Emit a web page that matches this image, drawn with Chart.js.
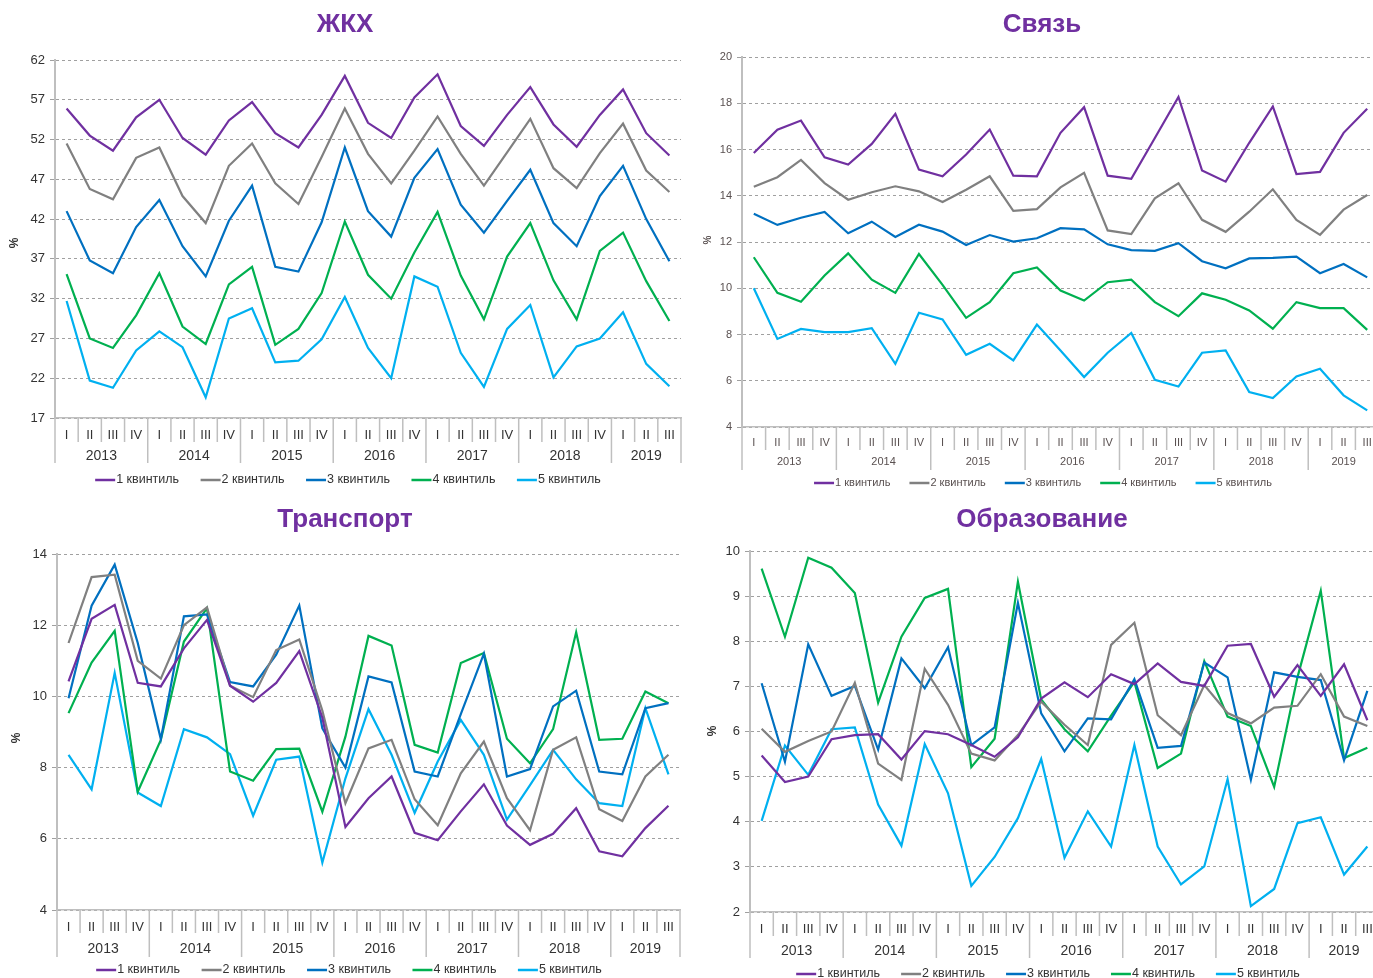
<!DOCTYPE html>
<html>
<head>
<meta charset="utf-8">
<script src="https://cdn.jsdelivr.net/npm/chart.js@4"></script>
<style>
html, body { margin: 0; padding: 0; background: #fff; overflow: hidden; width: 1373px; height: 978px; }
canvas { position: absolute; }
</style>
</head>
<body>
<canvas id="c1" width="690" height="495" style="left:0;top:0"></canvas>
<canvas id="c2" width="700" height="495" style="left:690px;top:0"></canvas>
<canvas id="c3" width="690" height="483" style="left:0;top:495px"></canvas>
<canvas id="c4" width="700" height="483" style="left:690px;top:495px"></canvas>
<script>
// Кварталы и годы
const quarters = ["I", "II", "III", "IV", "I", "II", "III", "IV", "I", "II", "III", "IV",
    "I", "II", "III", "IV", "I", "II", "III", "IV", "I", "II", "III", "IV", "I", "II", "III"];
const years = ["2013", "2014", "2015", "2016", "2017", "2018", "2019"];
const yearSizes = [4, 4, 4, 4, 4, 4, 3];
const seriesNames = ["1 квинтиль", "2 квинтиль", "3 квинтиль", "4 квинтиль", "5 квинтиль"];
const seriesColors = ["#7030A0", "#808080", "#0070C0", "#00B050", "#00B0F0"];

// ЖКХ
const zhkh1 = [55.9, 52.5, 50.6, 54.8, 57.0, 52.2, 50.1, 54.4, 56.7, 52.8, 51.0, 55.1, 60.0, 54.1, 52.2, 57.3, 60.2, 53.7, 51.2, 55.1, 58.6, 53.9, 51.1, 55.1, 58.3, 52.8, 50.0];
const zhkh2 = [51.5, 45.8, 44.5, 49.7, 51.0, 44.9, 41.5, 48.7, 51.5, 46.5, 43.9, 49.8, 55.9, 50.2, 46.5, 50.6, 54.9, 50.2, 46.2, 50.4, 54.6, 48.4, 45.9, 50.3, 54.0, 48.1, 45.4];
const zhkh3 = [43.0, 36.8, 35.2, 41.0, 44.4, 38.6, 34.8, 41.8, 46.2, 36.0, 35.4, 41.6, 51.0, 43.0, 39.8, 47.2, 50.8, 43.8, 40.3, 44.3, 48.2, 41.5, 38.6, 44.9, 48.7, 42.0, 36.7];
const zhkh4 = [35.1, 27.0, 25.8, 29.9, 35.2, 28.5, 26.3, 33.8, 36.0, 26.2, 28.2, 32.7, 41.7, 35.0, 32.0, 37.8, 42.9, 34.9, 29.4, 37.3, 41.5, 34.3, 29.4, 38.0, 40.3, 34.2, 29.2];
const zhkh5 = [31.7, 21.7, 20.8, 25.5, 27.9, 25.9, 19.6, 29.5, 30.8, 24.0, 24.2, 26.9, 32.2, 25.8, 22.0, 34.8, 33.5, 25.2, 20.9, 28.2, 31.2, 22.1, 26.0, 27.0, 30.3, 23.8, 21.0];

// Связь
const svyaz1 = [15.85, 16.86, 17.25, 15.66, 15.35, 16.24, 17.54, 15.13, 14.84, 15.78, 16.86, 14.87, 14.84, 16.72, 17.83, 14.87, 14.73, 16.5, 18.27, 15.09, 14.61, 16.29, 17.86, 14.94, 15.03, 16.72, 17.76];
const svyaz2 = [14.39, 14.8, 15.55, 14.55, 13.83, 14.15, 14.41, 14.19, 13.73, 14.26, 14.84, 13.35, 13.42, 14.36, 14.99, 12.5, 12.34, 13.89, 14.54, 12.96, 12.44, 13.31, 14.28, 12.95, 12.31, 13.4, 14.03];
const svyaz3 = [13.22, 12.74, 13.05, 13.3, 12.38, 12.88, 12.22, 12.75, 12.45, 11.87, 12.3, 12.02, 12.16, 12.6, 12.55, 11.9, 11.65, 11.62, 11.95, 11.17, 10.86, 11.29, 11.31, 11.37, 10.65, 11.05, 10.47];
const svyaz4 = [11.34, 9.8, 9.42, 10.55, 11.51, 10.37, 9.8, 11.48, 10.15, 8.72, 9.4, 10.65, 10.9, 9.9, 9.47, 10.26, 10.37, 9.4, 8.79, 9.78, 9.5, 9.04, 8.25, 9.4, 9.14, 9.14, 8.2];
const svyaz5 = [10.0, 7.81, 8.24, 8.1, 8.1, 8.27, 6.73, 8.94, 8.65, 7.12, 7.6, 6.88, 8.43, 7.31, 6.16, 7.21, 8.07, 6.04, 5.75, 7.21, 7.31, 5.51, 5.25, 6.19, 6.52, 5.37, 4.72];

// Транспорт
const trans1 = [10.42, 12.18, 12.57, 10.38, 10.28, 11.35, 12.15, 10.3, 9.85, 10.38, 11.27, 9.4, 6.33, 7.14, 7.75, 6.17, 5.96, 6.77, 7.53, 6.37, 5.83, 6.14, 6.86, 5.65, 5.51, 6.3, 6.93];
const trans2 = [11.5, 13.35, 13.42, 11.0, 10.5, 12.0, 12.5, 10.3, 9.98, 11.3, 11.6, 9.6, 7.0, 8.54, 8.78, 7.11, 6.38, 7.84, 8.73, 7.14, 6.24, 8.5, 8.85, 6.83, 6.5, 7.75, 8.36];
const trans3 = [9.95, 12.55, 13.7, 11.5, 8.8, 12.25, 12.3, 10.4, 10.28, 11.17, 12.55, 9.1, 8.0, 10.56, 10.39, 7.89, 7.75, 9.5, 11.2, 7.75, 7.96, 9.72, 10.16, 7.89, 7.81, 9.67, 9.81];
const trans4 = [9.53, 10.95, 11.84, 7.32, 8.78, 11.54, 12.48, 7.89, 7.63, 8.52, 8.53, 6.76, 8.87, 11.7, 11.43, 8.64, 8.42, 10.94, 11.22, 8.81, 8.12, 9.08, 11.8, 8.78, 8.81, 10.14, 9.81];
const trans5 = [8.36, 7.39, 10.66, 7.3, 6.92, 9.08, 8.85, 8.38, 6.65, 8.22, 8.31, 5.33, 7.7, 9.64, 8.36, 6.73, 8.17, 9.34, 8.36, 6.54, 7.51, 8.5, 7.67, 7.0, 6.92, 9.67, 7.81];

// Образование
const obr1 = [5.47, 4.88, 5.0, 5.83, 5.92, 5.94, 5.38, 6.01, 5.94, 5.7, 5.44, 5.87, 6.73, 7.09, 6.76, 7.27, 7.05, 7.51, 7.1, 7.01, 7.9, 7.94, 6.77, 7.47, 6.79, 7.49, 6.25];
const obr2 = [6.06, 5.55, 5.79, 6.0, 7.08, 5.29, 4.93, 7.39, 6.59, 5.51, 5.36, 5.92, 6.66, 6.15, 5.7, 7.92, 8.41, 6.36, 5.92, 7.03, 6.41, 6.18, 6.53, 6.57, 7.27, 6.33, 6.12];
const obr3 = [7.07, 5.33, 7.93, 6.79, 7.01, 5.6, 7.62, 6.96, 7.87, 5.7, 6.09, 8.85, 6.4, 5.56, 6.29, 6.27, 7.16, 5.64, 5.68, 7.53, 7.2, 4.93, 7.31, 7.21, 7.14, 5.36, 6.9];
const obr4 = [9.61, 8.1, 9.85, 9.63, 9.07, 6.64, 8.1, 8.96, 9.16, 5.21, 5.84, 9.32, 6.71, 6.05, 5.56, 6.35, 7.1, 5.19, 5.51, 7.56, 6.33, 6.12, 4.77, 7.2, 9.12, 5.41, 5.64];
const obr5 = [4.02, 5.69, 5.04, 6.05, 6.09, 4.38, 3.47, 5.72, 4.63, 2.58, 3.22, 4.08, 5.39, 3.2, 4.23, 3.45, 5.7, 3.45, 2.61, 3.01, 4.94, 2.13, 2.51, 3.97, 4.1, 2.83, 3.45];

const FONT = '"Liberation Sans", Arial, sans-serif';

// Заголовок, подпись %, годы и разделители под осью, легенда
const decor = {
    id: "decor",
    afterDraw(chart, args, o) {
        const ctx = chart.ctx;
        const xs = chart.scales.x;
        const area = chart.chartArea;
        const step = xs.getPixelForValue(1) - xs.getPixelForValue(0);
        const x0 = xs.getPixelForValue(0) - step / 2;
        ctx.save();

        ctx.fillStyle = "#7030A0";
        ctx.font = "bold " + o.titleSize + "px " + FONT;
        ctx.textAlign = "center";
        ctx.textBaseline = "middle";
        ctx.fillText(o.title, o.titleX, o.titleY);

        ctx.save();
        ctx.translate(o.pctX, o.pctY);
        ctx.rotate(-Math.PI / 2);
        ctx.fillStyle = o.textColor;
        ctx.font = "bold " + o.pctSize + "px " + FONT;
        ctx.fillText("%", 0, 0);
        ctx.restore();

        // разделители кварталов и лет
        const bounds = [0];
        let acc = 0;
        yearSizes.forEach(n => { acc += n; bounds.push(acc); });
        ctx.strokeStyle = "#bfbfbf";
        ctx.lineWidth = 1.5;
        for (let i = 0; i <= quarters.length; i++) {
            const x = x0 + i * step;
            const len = bounds.includes(i) ? o.yearLen : o.qLen;
            ctx.beginPath();
            ctx.moveTo(x, area.bottom);
            ctx.lineTo(x, area.bottom + len);
            ctx.stroke();
        }

        ctx.fillStyle = o.textColor;
        ctx.font = o.yearSize + "px " + FONT;
        let start = 0;
        years.forEach((y, j) => {
            const n = yearSizes[j];
            const cx = (xs.getPixelForValue(start) + xs.getPixelForValue(start + n - 1)) / 2;
            ctx.fillText(y, cx, o.yearY);
            start += n;
        });

        // легенда
        ctx.font = o.legendSize + "px " + FONT;
        const widths = chart.data.datasets.map(d => o.lineLen + 1 + ctx.measureText(d.label).width);
        const total = widths.reduce((a, b) => a + b, 0) + o.legendGap * (widths.length - 1);
        let lx = o.legendX - total / 2;
        ctx.textAlign = "left";
        chart.data.datasets.forEach((d, i) => {
            ctx.strokeStyle = d.borderColor;
            ctx.lineWidth = 2.5;
            ctx.beginPath();
            ctx.moveTo(lx, o.legendY);
            ctx.lineTo(lx + o.lineLen, o.legendY);
            ctx.stroke();
            ctx.fillStyle = o.textColor;
            ctx.fillText(d.label, lx + o.lineLen + 1, o.legendY);
            lx += widths[i] + o.legendGap;
        });
        ctx.restore();
    }
};

function makeChart(id, cfg) {
    return new Chart(document.getElementById(id), {
        type: "line",
        data: {
            labels: quarters,
            datasets: cfg.series.map((d, i) => ({
                label: seriesNames[i],
                data: d,
                borderColor: seriesColors[i],
                backgroundColor: seriesColors[i],
                borderWidth: 2.2,
                pointRadius: 0,
                tension: 0,
                fill: false
            }))
        },
        options: {
            responsive: false,
            animation: false,
            layout: { padding: cfg.padding },
            plugins: {
                legend: { display: false },
                title: { display: false },
                tooltip: { enabled: false },
                decor: cfg.decor
            },
            scales: {
                x: {
                    type: "category",
                    offset: true,
                    grid: { display: false },
                    border: { display: true, color: "#bfbfbf", width: 1.5 },
                    ticks: {
                        autoSkip: false,
                        maxRotation: 0,
                        padding: cfg.xPad,
                        color: cfg.decor.textColor,
                        font: { family: FONT, size: cfg.qSize }
                    },
                    afterFit(s) { s.height = 40; }
                },
                y: {
                    min: cfg.min,
                    max: cfg.max,
                    ticks: {
                        stepSize: cfg.step,
                        padding: 5,
                        color: cfg.decor.textColor,
                        font: { family: FONT, size: cfg.ySize }
                    },
                    grid: { color: "#a0a0a0", lineWidth: 1, tickLength: 5 },
                    border: { display: true, color: "#bfbfbf", width: 2, dash: [3, 3] },
                    afterFit(s) { s.width = cfg.yWidth; }
                }
            }
        },
        plugins: [decor]
    });
}

makeChart("c1", {
    series: [zhkh1, zhkh2, zhkh3, zhkh4, zhkh5],
    min: 17, max: 62, step: 5,
    padding: { left: 0, right: 9, top: 60, bottom: 37 },
    yWidth: 55, xPad: 2, qSize: 13, ySize: 13,
    decor: {
        title: "ЖКХ", titleX: 345, titleY: 25, titleSize: 26,
        pctX: 15, pctY: 243, pctSize: 12, textColor: "#333333",
        qLen: 24, yearLen: 45, yearY: 456, yearSize: 14,
        legendX: 348, legendY: 480, legendSize: 12.5, legendGap: 21.5, lineLen: 20
    }
});

makeChart("c2", {
    series: [svyaz1, svyaz2, svyaz3, svyaz4, svyaz5],
    min: 4, max: 20, step: 2,
    padding: { left: 0, right: 11, top: 57, bottom: 28 },
    yWidth: 52, xPad: 1, qSize: 11, ySize: 11,
    decor: {
        title: "Связь", titleX: 352, titleY: 25, titleSize: 26,
        pctX: 18, pctY: 240, pctSize: 10, textColor: "#595050",
        qLen: 23, yearLen: 43, yearY: 462, yearSize: 11,
        legendX: 353, legendY: 483, legendSize: 11, legendGap: 19, lineLen: 20
    }
});

makeChart("c3", {
    series: [trans1, trans2, trans3, trans4, trans5],
    min: 4, max: 14, step: 2,
    padding: { left: 0, right: 10, top: 59, bottom: 28 },
    yWidth: 57, xPad: 2, qSize: 13, ySize: 13,
    decor: {
        title: "Транспорт", titleX: 345, titleY: 25, titleSize: 26,
        pctX: 17, pctY: 243, pctSize: 12, textColor: "#333333",
        qLen: 23, yearLen: 47, yearY: 454, yearSize: 14,
        legendX: 349, legendY: 475, legendSize: 12.5, legendGap: 21.5, lineLen: 20
    }
});

makeChart("c4", {
    series: [obr1, obr2, obr3, obr4, obr5],
    min: 2, max: 10, step: 1,
    padding: { left: 0, right: 11, top: 56, bottom: 26 },
    yWidth: 60, xPad: 2, qSize: 13, ySize: 13,
    decor: {
        title: "Образование", titleX: 352, titleY: 25, titleSize: 26,
        pctX: 23, pctY: 236, pctSize: 12, textColor: "#333333",
        qLen: 24, yearLen: 46, yearY: 456, yearSize: 14,
        legendX: 358, legendY: 479, legendSize: 12.5, legendGap: 21, lineLen: 20
    }
});
</script>
</body>
</html>
